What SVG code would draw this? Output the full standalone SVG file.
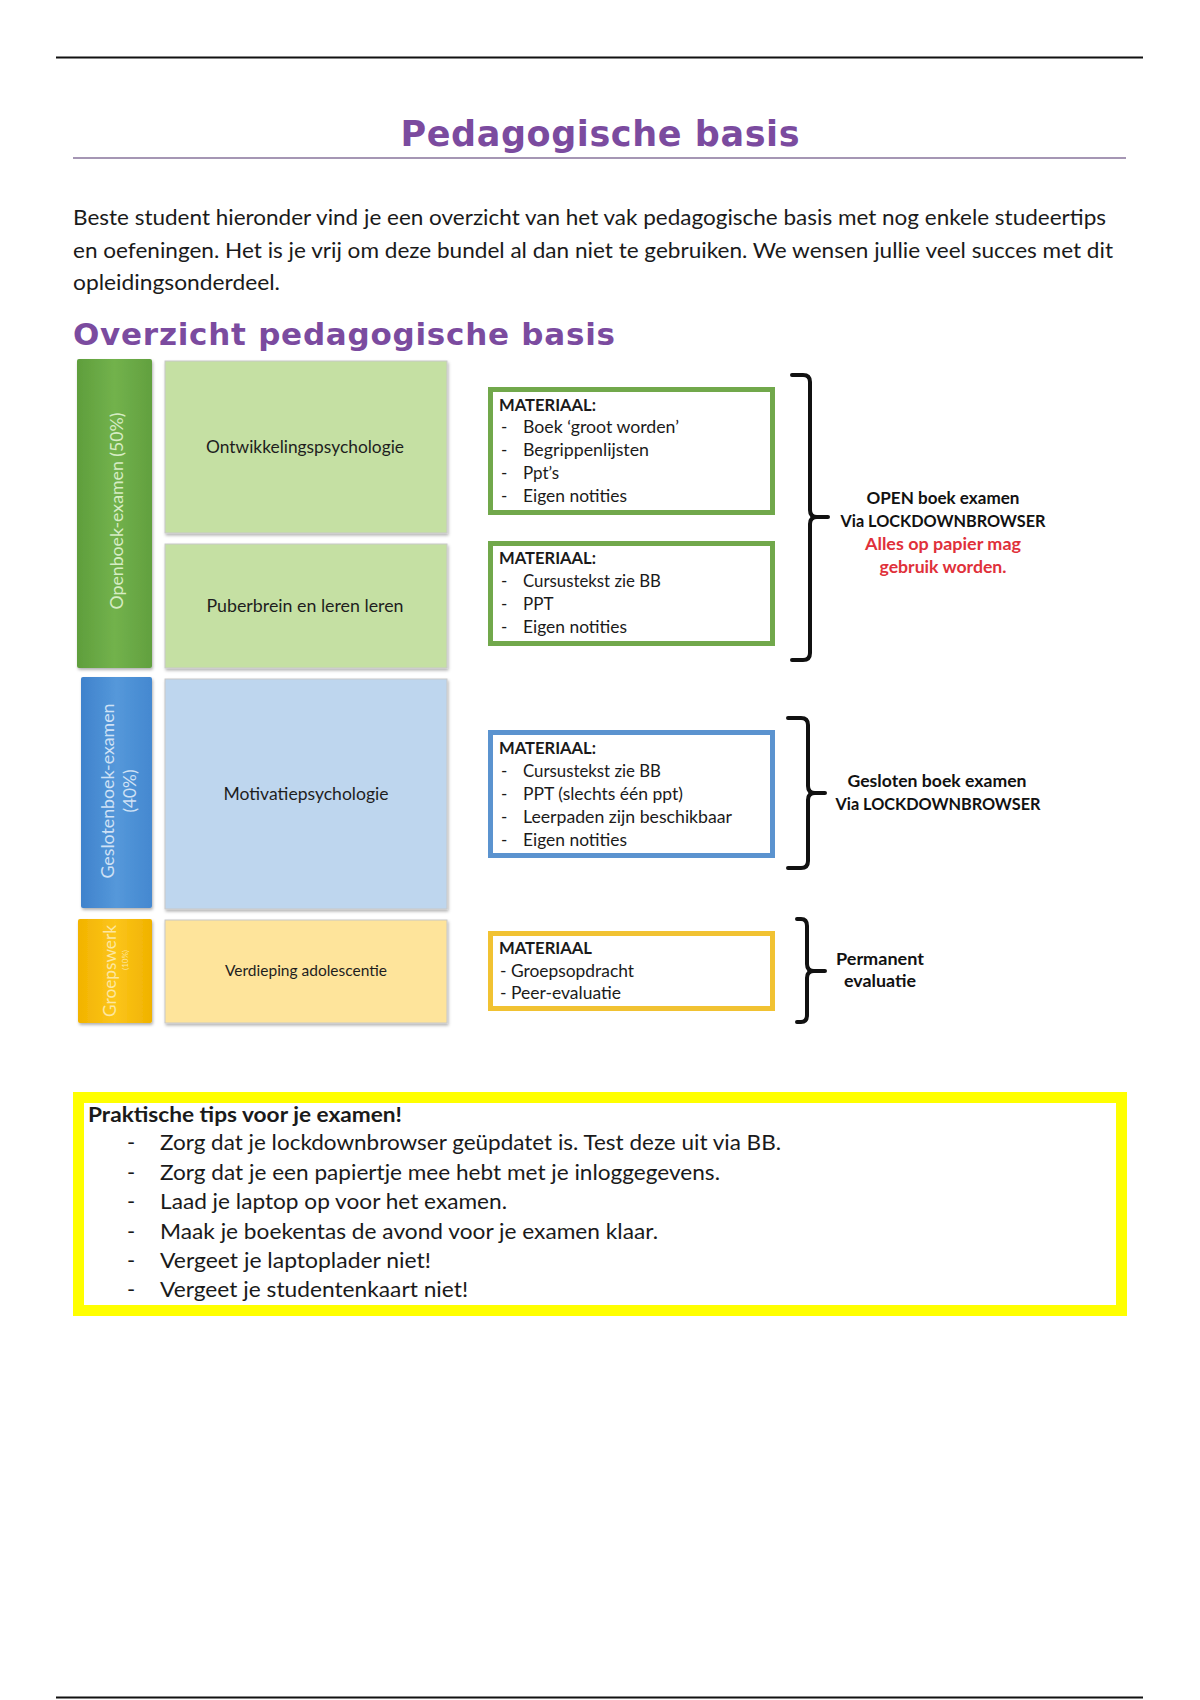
<svg xmlns="http://www.w3.org/2000/svg" width="1200" height="1700" viewBox="0 0 1200 1700">
<defs>
<style>
.body{font-family:Lato,"Liberation Sans",sans-serif;fill:#1a1a1a}
.h{font-family:"DejaVu Sans",sans-serif;font-weight:bold;fill:#7b4b9f}
.lbl{font-family:Lato,"Liberation Sans",sans-serif;fill:#1e1e1e;text-anchor:middle}
.bar{font-family:Lato,"Liberation Sans",sans-serif;text-anchor:middle;dominant-baseline:central}
.mat{font-family:Lato,"Liberation Sans",sans-serif;font-size:17px;fill:#1a1a1a}
.b{font-weight:bold}
.rt{font-family:Lato,"Liberation Sans",sans-serif;font-size:17px;font-weight:bold;text-anchor:middle;fill:#111}
.brace{fill:none;stroke:#111;stroke-width:4;stroke-linecap:round;stroke-linejoin:round}
.box{stroke:#c8c8c8;stroke-width:1}
</style>
<filter id="sh" x="-10%" y="-10%" width="130%" height="130%">
<feDropShadow dx="1" dy="2" stdDeviation="1.5" flood-color="#000" flood-opacity="0.3"/>
</filter>
<linearGradient id="gG" x1="0" y1="0" x2="1" y2="0"><stop offset="0" stop-color="#5f9e3c"/><stop offset="0.5" stop-color="#72b24c"/><stop offset="1" stop-color="#62a03f"/></linearGradient>
<linearGradient id="gB" x1="0" y1="0" x2="1" y2="0"><stop offset="0" stop-color="#3f82cc"/><stop offset="0.5" stop-color="#5598da"/><stop offset="1" stop-color="#4488d0"/></linearGradient>
<linearGradient id="gY" x1="0" y1="0" x2="1" y2="0"><stop offset="0" stop-color="#f2b300"/><stop offset="0.5" stop-color="#fcc51a"/><stop offset="1" stop-color="#f0b200"/></linearGradient>
</defs>
<rect width="1200" height="1700" fill="#ffffff"/>

<!-- page rules -->
<line x1="56" y1="57.5" x2="1143" y2="57.5" stroke="#111" stroke-width="2"/>
<line x1="56" y1="1697.5" x2="1143" y2="1697.5" stroke="#111" stroke-width="2"/>

<!-- title -->
<text class="h" x="600" y="146" font-size="35" text-anchor="middle" textLength="399">Pedagogische basis</text>
<line x1="73" y1="158" x2="1126" y2="158" stroke="#a596b4" stroke-width="2"/>

<!-- intro -->
<text class="body" font-size="22" x="73" y="225" textLength="1033" lengthAdjust="spacingAndGlyphs">Beste student hieronder vind je een overzicht van het vak pedagogische basis met nog enkele studeertips</text>
<text class="body" font-size="22" x="73" y="258" textLength="1040" lengthAdjust="spacingAndGlyphs">en oefeningen. Het is je vrij om deze bundel al dan niet te gebruiken. We wensen jullie veel succes met dit</text>
<text class="body" font-size="22" x="73" y="290" textLength="207" lengthAdjust="spacingAndGlyphs">opleidingsonderdeel.</text>

<text class="h" x="73" y="345" font-size="31" textLength="542">Overzicht pedagogische basis</text>

<!-- left bars -->
<g id="bar-open">
<rect x="77" y="359" width="75" height="309" rx="2" fill="url(#gG)" filter="url(#sh)"/>
<text class="bar" x="116" y="511" font-size="18" fill="#d6ecc4" transform="rotate(-90 116 511)" textLength="197" lengthAdjust="spacingAndGlyphs">Openboek-examen (50%)</text>
</g>
<g id="bar-gesloten">
<rect x="81" y="677" width="71" height="231" rx="2" fill="url(#gB)" filter="url(#sh)"/>
<text class="bar" x="107" y="791" font-size="18" fill="#cfe1f5" transform="rotate(-90 107 791)" textLength="175" lengthAdjust="spacingAndGlyphs">Geslotenboek-examen</text>
<text class="bar" x="129" y="791" font-size="18" fill="#cfe1f5" transform="rotate(-90 129 791)" textLength="43" lengthAdjust="spacingAndGlyphs">(40%)</text>
</g>
<g id="bar-groep">
<rect x="78" y="919" width="74" height="104" rx="2" fill="url(#gY)" filter="url(#sh)"/>
<text class="bar" x="109" y="971" font-size="18" fill="#fde7a0" transform="rotate(-90 109 971)" textLength="92" lengthAdjust="spacingAndGlyphs">Groepswerk</text>
<text class="bar" x="125" y="960" font-size="8" fill="#fde7a0" transform="rotate(-90 125 960)">(10%)</text>
</g>

<!-- topic boxes -->
<g id="topic-ontwikkeling">
<rect class="box" x="165" y="361" width="282" height="172" fill="#c5e0a3" filter="url(#sh)"/>
<text class="lbl" x="305" y="453" font-size="18" textLength="198" lengthAdjust="spacingAndGlyphs">Ontwikkelingspsychologie</text>
</g>
<g id="topic-puberbrein">
<rect class="box" x="165" y="544" width="282" height="124" fill="#c5e0a3" filter="url(#sh)"/>
<text class="lbl" x="305" y="612" font-size="18" textLength="197" lengthAdjust="spacingAndGlyphs">Puberbrein en leren leren</text>
</g>
<g id="topic-motivatie">
<rect class="box" x="165" y="679" width="282" height="230" fill="#bed6ee" filter="url(#sh)"/>
<text class="lbl" x="306" y="800" font-size="18" textLength="165" lengthAdjust="spacingAndGlyphs">Motivatiepsychologie</text>
</g>
<g id="topic-verdieping">
<rect class="box" x="165" y="920" width="282" height="103" fill="#fee49b" filter="url(#sh)"/>
<text class="lbl" x="306" y="976" font-size="16" textLength="162" lengthAdjust="spacingAndGlyphs">Verdieping adolescentie</text>
</g>

<!-- material boxes -->
<g id="mat-1">
<rect x="490.5" y="389.5" width="282" height="123" fill="#fff" stroke="#71a84b" stroke-width="5"/>
<text class="mat b" x="499" y="411" textLength="97" lengthAdjust="spacingAndGlyphs">MATERIAAL:</text>
<text class="mat" x="501" y="433">-</text><text class="mat" x="523" y="433" textLength="156" lengthAdjust="spacingAndGlyphs">Boek ‘groot worden’</text>
<text class="mat" x="501" y="456">-</text><text class="mat" x="523" y="456" textLength="126" lengthAdjust="spacingAndGlyphs">Begrippenlijsten</text>
<text class="mat" x="501" y="479">-</text><text class="mat" x="523" y="479">Ppt’s</text>
<text class="mat" x="501" y="502">-</text><text class="mat" x="523" y="502" textLength="104" lengthAdjust="spacingAndGlyphs">Eigen notities</text>
</g>
<g id="mat-2">
<rect x="490.5" y="543.5" width="282" height="100" fill="#fff" stroke="#71a84b" stroke-width="5"/>
<text class="mat b" x="499" y="564" textLength="97" lengthAdjust="spacingAndGlyphs">MATERIAAL:</text>
<text class="mat" x="501" y="587">-</text><text class="mat" x="523" y="587" textLength="138" lengthAdjust="spacingAndGlyphs">Cursustekst zie BB</text>
<text class="mat" x="501" y="610">-</text><text class="mat" x="523" y="610">PPT</text>
<text class="mat" x="501" y="633">-</text><text class="mat" x="523" y="633" textLength="104" lengthAdjust="spacingAndGlyphs">Eigen notities</text>
</g>
<g id="mat-3">
<rect x="490.5" y="732.5" width="282" height="123" fill="#fff" stroke="#5b93cf" stroke-width="5"/>
<text class="mat b" x="499" y="754" textLength="97" lengthAdjust="spacingAndGlyphs">MATERIAAL:</text>
<text class="mat" x="501" y="777">-</text><text class="mat" x="523" y="777" textLength="138" lengthAdjust="spacingAndGlyphs">Cursustekst zie BB</text>
<text class="mat" x="501" y="800">-</text><text class="mat" x="523" y="800" textLength="160" lengthAdjust="spacingAndGlyphs">PPT (slechts één ppt)</text>
<text class="mat" x="501" y="823">-</text><text class="mat" x="523" y="823" textLength="209" lengthAdjust="spacingAndGlyphs">Leerpaden zijn beschikbaar</text>
<text class="mat" x="501" y="846">-</text><text class="mat" x="523" y="846" textLength="104" lengthAdjust="spacingAndGlyphs">Eigen notities</text>
</g>
<g id="mat-4">
<rect x="490.5" y="933.5" width="282" height="75" fill="#fff" stroke="#f1c232" stroke-width="5"/>
<text class="mat b" x="499" y="954" textLength="93" lengthAdjust="spacingAndGlyphs">MATERIAAL</text>
<text class="mat" x="500" y="977" textLength="134" lengthAdjust="spacingAndGlyphs">- Groepsopdracht</text>
<text class="mat" x="500" y="999" textLength="121" lengthAdjust="spacingAndGlyphs">- Peer-evaluatie</text>
</g>

<!-- braces -->
<g id="connectors">
<path class="brace" d="M792,375 H803 Q810,375 810,382 V510 Q810,517 817,517 H828 M817,517 Q810,517 810,524 V653 Q810,660 803,660 H792"/>
<path class="brace" d="M788,718 H801 Q808,718 808,725 V786 Q808,793 815,793 H825 M815,793 Q808,793 808,800 V861 Q808,868 801,868 H788"/>
<path class="brace" d="M797,919 H801 Q807,919 807,926 V964 Q807,971 814,971 H825 M814,971 Q807,971 807,978 V1015 Q807,1022 801,1022 H797"/>
</g>

<!-- right labels -->
<g id="label-open">
<text class="rt" x="943" y="504" textLength="153" lengthAdjust="spacingAndGlyphs">OPEN boek examen</text>
<text class="rt" x="943" y="527" textLength="205" lengthAdjust="spacingAndGlyphs">Via LOCKDOWNBROWSER</text>
<text class="rt" x="943" y="550" textLength="156" lengthAdjust="spacingAndGlyphs" style="fill:#e0303a">Alles op papier mag</text>
<text class="rt" x="943" y="573" textLength="127" lengthAdjust="spacingAndGlyphs" style="fill:#e0303a">gebruik worden.</text>
</g>
<g id="label-gesloten">
<text class="rt" x="937" y="787" textLength="179" lengthAdjust="spacingAndGlyphs">Gesloten boek examen</text>
<text class="rt" x="938" y="810" textLength="205" lengthAdjust="spacingAndGlyphs">Via LOCKDOWNBROWSER</text>
</g>
<g id="label-permanent">
<text class="rt" x="880" y="965" textLength="88" lengthAdjust="spacingAndGlyphs">Permanent</text>
<text class="rt" x="880" y="987" textLength="72" lengthAdjust="spacingAndGlyphs">evaluatie</text>
</g>

<!-- tips box -->
<g id="tips">
<rect x="78.5" y="1097.5" width="1043" height="213" fill="#fff" stroke="#ffff00" stroke-width="11"/>
<text class="body b" font-size="21" x="88" y="1122" textLength="314" lengthAdjust="spacingAndGlyphs">Praktische tips voor je examen!</text>
<g class="body" font-size="22">
<text x="127" y="1150">-</text><text x="160" y="1150" textLength="621" lengthAdjust="spacingAndGlyphs">Zorg dat je lockdownbrowser geüpdatet is. Test deze uit via BB.</text>
<text x="127" y="1180">-</text><text x="160" y="1180" textLength="560" lengthAdjust="spacingAndGlyphs">Zorg dat je een papiertje mee hebt met je inloggegevens.</text>
<text x="127" y="1209">-</text><text x="160" y="1209" textLength="347" lengthAdjust="spacingAndGlyphs">Laad je laptop op voor het examen.</text>
<text x="127" y="1239">-</text><text x="160" y="1239" textLength="498" lengthAdjust="spacingAndGlyphs">Maak je boekentas de avond voor je examen klaar.</text>
<text x="127" y="1268">-</text><text x="160" y="1268" textLength="271" lengthAdjust="spacingAndGlyphs">Vergeet je laptoplader niet!</text>
<text x="127" y="1297">-</text><text x="160" y="1297" textLength="308" lengthAdjust="spacingAndGlyphs">Vergeet je studentenkaart niet!</text>
</g>
</g>
</svg>
